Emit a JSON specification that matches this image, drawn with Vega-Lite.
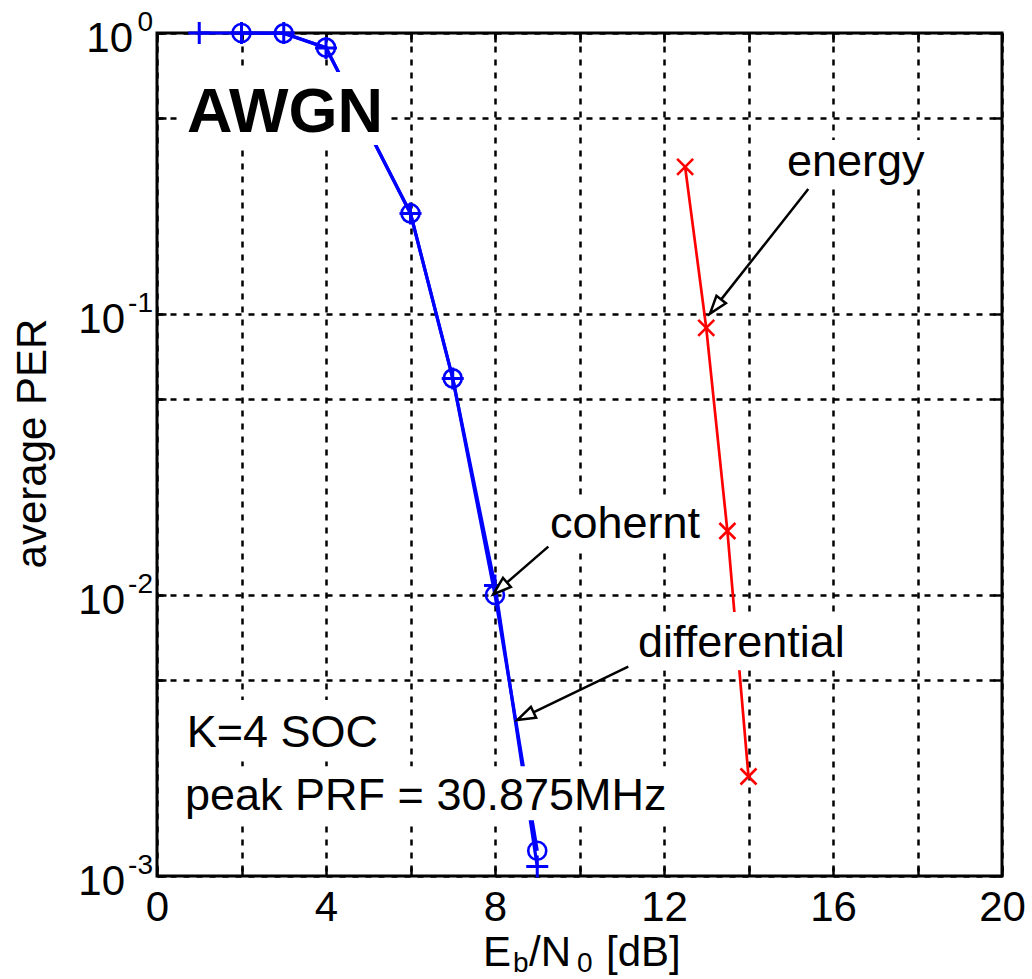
{
  "$schema": "https://vega.github.io/schema/vega-lite/v6.json",
  "width": 845,
  "height": 843,
  "autosize": "none",
  "padding": {"left": 157, "top": 33, "right": 30, "bottom": 103},
  "background": "white",
  "config": {
    "font": "Liberation Sans",
    "view": {"stroke": "black", "strokeWidth": 3},
    "text": {"font": "Liberation Sans", "color": "black"}
  },
  "datasets": {
    "pts": [
      {"s": "differential", "x": 1, "y": 1},
      {"s": "differential", "x": 2, "y": 1},
      {"s": "differential", "x": 3, "y": 1},
      {"s": "differential", "x": 4, "y": 0.885},
      {"s": "differential", "x": 6, "y": 0.228},
      {"s": "differential", "x": 7, "y": 0.059},
      {"s": "differential", "x": 8, "y": 0.0108},
      {"s": "differential", "x": 9, "y": 0.00108},
      {"s": "coherent", "x": 2, "y": 1},
      {"s": "coherent", "x": 3, "y": 0.997},
      {"s": "coherent", "x": 4, "y": 0.887},
      {"s": "coherent", "x": 6, "y": 0.228},
      {"s": "coherent", "x": 7, "y": 0.059},
      {"s": "coherent", "x": 8, "y": 0.01},
      {"s": "coherent", "x": 9, "y": 0.00123},
      {"s": "energy", "x": 12.5, "y": 0.334},
      {"s": "energy", "x": 13, "y": 0.0893},
      {"s": "energy", "x": 13.5, "y": 0.0169},
      {"s": "energy", "x": 14, "y": 0.00226}
    ],
    "boxes": [
      {"x": 0.615, "x2": 5.397, "y": 0.7265, "y2": 0.3995},
      {"x": 0.544, "x2": 5.397, "y": 0.00423, "y2": 0.00265},
      {"x": 0.544, "x2": 12.43, "y": 0.00246, "y2": 0.00158},
      {"x": 9.183, "x2": 13.04, "y": 0.0221, "y2": 0.0141},
      {"x": 11.195, "x2": 16.52, "y": 0.0087, "y2": 0.0054},
      {"x": 14.75, "x2": 18.3, "y": 0.416, "y2": 0.288}
    ],
    "notes": [
      {"kind": "title", "x": 0.71, "y": 0.4443, "text": "AWGN"},
      {"kind": "note", "x": 0.703, "y": 0.002877, "text": "K=4 SOC"},
      {"kind": "note", "x": 0.663, "y": 0.001717, "text": "peak PRF = 30.875MHz"},
      {"kind": "note", "x": 9.302, "y": 0.01595, "text": "cohernt"},
      {"kind": "note", "x": 11.385, "y": 0.006016, "text": "differential"},
      {"kind": "note", "x": 14.911, "y": 0.3108, "text": "energy"}
    ],
    "arrows": [
      {"x": 9.262, "y": 0.01486, "x2": 7.96, "y2": 0.01006, "angle": 229.1},
      {"x": 11.155, "y": 0.00556, "x2": 8.528, "y2": 0.00359, "angle": 244.3},
      {"x": 15.415, "y": 0.2786, "x2": 13.089, "y2": 0.1003, "angle": 218.3}
    ],
    "ylab": [
      {"x": 0, "y": 1, "base": "10", "sup": "0"},
      {"x": 0, "y": 0.1, "base": "10", "sup": "-1"},
      {"x": 0, "y": 0.01, "base": "10", "sup": "-2"},
      {"x": 0, "y": 0.001, "base": "10", "sup": "-3"}
    ],
    "xtitle": [
      {"part": "main", "x": 7.716, "y": 0.001, "text": "E"},
      {"part": "sub", "x": 8.426, "y": 0.001, "text": "b"},
      {"part": "main", "x": 8.805, "y": 0.001, "text": "/N"},
      {"part": "sub", "x": 9.941, "y": 0.001, "text": "0"},
      {"part": "main", "x": 10.627, "y": 0.001, "text": "[dB]"}
    ]
  },
  "encoding": {
    "x": {"field": "x", "type": "quantitative", "scale": {"domain": [0, 20], "nice": false, "zero": false}, "axis": null},
    "y": {"field": "y", "type": "quantitative", "scale": {"type": "log", "domain": [0.001, 1], "nice": false}, "axis": null}
  },
  "layer": [
    {
      "data": {"name": "pts"},
      "transform": [{"filter": "datum.s === 'differential'"}],
      "mark": {"type": "line", "color": "blue", "strokeWidth": 3.2, "clip": false},
      "encoding": {
        "x": {"field": "x", "type": "quantitative", "scale": {"domain": [0, 20], "nice": false, "zero": false},
          "axis": {"orient": "bottom", "values": [0, 2, 4, 6, 8, 10, 12, 14, 16, 18, 20],
            "labelExpr": "datum.value % 4 === 0 ? datum.label : ''",
            "grid": true, "gridColor": "black", "gridDash": [6, 7], "gridWidth": 2.5, "gridOpacity": 1,
            "ticks": true, "tickSize": -9, "tickColor": "black", "tickWidth": 2.5,
            "domain": false, "labelFontSize": 42, "labelColor": "black", "labelFont": "Liberation Sans",
            "labelPadding": 20, "labelFlush": false, "labelOverlap": false, "labelBound": false, "title": null}},
        "y": {"field": "y", "type": "quantitative", "scale": {"type": "log", "domain": [0.001, 1], "nice": false},
          "axis": {"orient": "left", "values": [0.001, 0.005, 0.01, 0.05, 0.1, 0.5, 1],
            "labels": false,
            "grid": true, "gridColor": "black", "gridDash": [6, 7], "gridWidth": 2.5, "gridOpacity": 1,
            "ticks": true, "tickSize": -9, "tickColor": "black", "tickWidth": 2.5,
            "domain": false,
            "title": "average PER", "titleFont": "Liberation Sans", "titleFontSize": 42, "titleFontWeight": "normal",
            "titleColor": "black", "titleAngle": 270, "titleX": -112, "titleY": 410,
            "titleAlign": "center", "titleBaseline": "alphabetic"}}
      }
    },
    {
      "data": {"name": "pts"},
      "transform": [{"filter": "datum.s === 'coherent'"}],
      "mark": {"type": "line", "color": "blue", "strokeWidth": 3.2, "clip": false},
      "encoding": {
        "x": {"field": "x", "type": "quantitative", "scale": {"domain": [0, 20], "nice": false, "zero": false},
          "axis": {"orient": "top", "values": [0, 2, 4, 6, 8, 10, 12, 14, 16, 18, 20],
            "labels": false, "grid": false, "ticks": true, "tickSize": -9, "tickColor": "black", "tickWidth": 2.5,
            "domain": false, "title": null}},
        "y": {"field": "y", "type": "quantitative", "scale": {"type": "log", "domain": [0.001, 1], "nice": false},
          "axis": {"orient": "right", "values": [0.001, 0.005, 0.01, 0.05, 0.1, 0.5, 1],
            "labels": false, "grid": false, "ticks": true, "tickSize": -9, "tickColor": "black", "tickWidth": 2.5,
            "domain": false, "title": null}}
      }
    },
    {
      "data": {"name": "pts"},
      "transform": [{"filter": "datum.s === 'energy'"}],
      "mark": {"type": "line", "color": "red", "strokeWidth": 2.7, "clip": false}
    },
    {
      "data": {"name": "pts"},
      "transform": [{"filter": "datum.s === 'differential'"}],
      "mark": {"type": "point", "shape": "M-1,0H1M0,-1V1", "size": 484, "filled": false, "color": "blue", "strokeWidth": 3, "opacity": 1, "clip": false}
    },
    {
      "data": {"name": "pts"},
      "transform": [{"filter": "datum.s === 'coherent'"}],
      "mark": {"type": "point", "shape": "circle", "size": 324, "filled": false, "color": "blue", "strokeWidth": 2.6, "opacity": 1, "clip": false}
    },
    {
      "data": {"name": "pts"},
      "transform": [{"filter": "datum.s === 'energy'"}],
      "mark": {"type": "point", "shape": "M-1,-1L1,1M-1,1L1,-1", "size": 256, "filled": false, "color": "red", "strokeWidth": 2.6, "opacity": 1, "clip": false}
    },
    {
      "data": {"name": "boxes"},
      "mark": {"type": "rect", "fill": "white", "stroke": null},
      "encoding": {
        "x2": {"field": "x2"},
        "y2": {"field": "y2"}
      }
    },
    {
      "data": {"name": "notes"},
      "transform": [{"filter": "datum.kind === 'title'"}],
      "mark": {"type": "text", "align": "left", "baseline": "alphabetic", "fontSize": 63, "fontWeight": "bold", "color": "black"},
      "encoding": {"text": {"field": "text"}}
    },
    {
      "data": {"name": "notes"},
      "transform": [{"filter": "datum.kind === 'note'"}],
      "mark": {"type": "text", "align": "left", "baseline": "alphabetic", "fontSize": 45, "color": "black"},
      "encoding": {"text": {"field": "text"}}
    },
    {
      "data": {"name": "arrows"},
      "mark": {"type": "rule", "color": "black", "strokeWidth": 2.5},
      "encoding": {
        "x2": {"field": "x2"},
        "y2": {"field": "y2"}
      }
    },
    {
      "data": {"name": "arrows"},
      "mark": {"type": "point", "shape": "M0,0L-0.667,2L0.667,2Z", "size": 324, "filled": true, "fill": "white", "stroke": "black", "strokeWidth": 2.5, "opacity": 1},
      "encoding": {
        "x": {"field": "x2", "type": "quantitative", "scale": {"domain": [0, 20], "nice": false, "zero": false}, "axis": null},
        "y": {"field": "y2", "type": "quantitative", "scale": {"type": "log", "domain": [0.001, 1], "nice": false}, "axis": null},
        "angle": {"field": "angle", "type": "quantitative", "scale": null}
      }
    },
    {
      "data": {"name": "ylab"},
      "transform": [{"filter": "datum.y === 1"}],
      "mark": {"type": "text", "align": "right", "baseline": "alphabetic", "fontSize": 42, "dx": -24, "dy": 19, "color": "black"},
      "encoding": {"text": {"field": "base"}}
    },
    {
      "data": {"name": "ylab"},
      "transform": [{"filter": "datum.y < 1"}],
      "mark": {"type": "text", "align": "right", "baseline": "alphabetic", "fontSize": 42, "dx": -32, "dy": 19, "color": "black"},
      "encoding": {"text": {"field": "base"}}
    },
    {
      "data": {"name": "ylab"},
      "mark": {"type": "text", "align": "right", "baseline": "alphabetic", "fontSize": 28, "dx": -4, "dy": -2, "color": "black"},
      "encoding": {"text": {"field": "sup"}}
    },
    {
      "data": {"name": "xtitle"},
      "transform": [{"filter": "datum.part === 'main'"}],
      "mark": {"type": "text", "align": "left", "baseline": "alphabetic", "fontSize": 42, "dy": 90, "color": "black"},
      "encoding": {"text": {"field": "text"}}
    },
    {
      "data": {"name": "xtitle"},
      "transform": [{"filter": "datum.part === 'sub'"}],
      "mark": {"type": "text", "align": "left", "baseline": "alphabetic", "fontSize": 28, "dy": 96, "color": "black"},
      "encoding": {"text": {"field": "text"}}
    }
  ],
  "resolve": {"axis": {"x": "independent", "y": "independent"}}
}
